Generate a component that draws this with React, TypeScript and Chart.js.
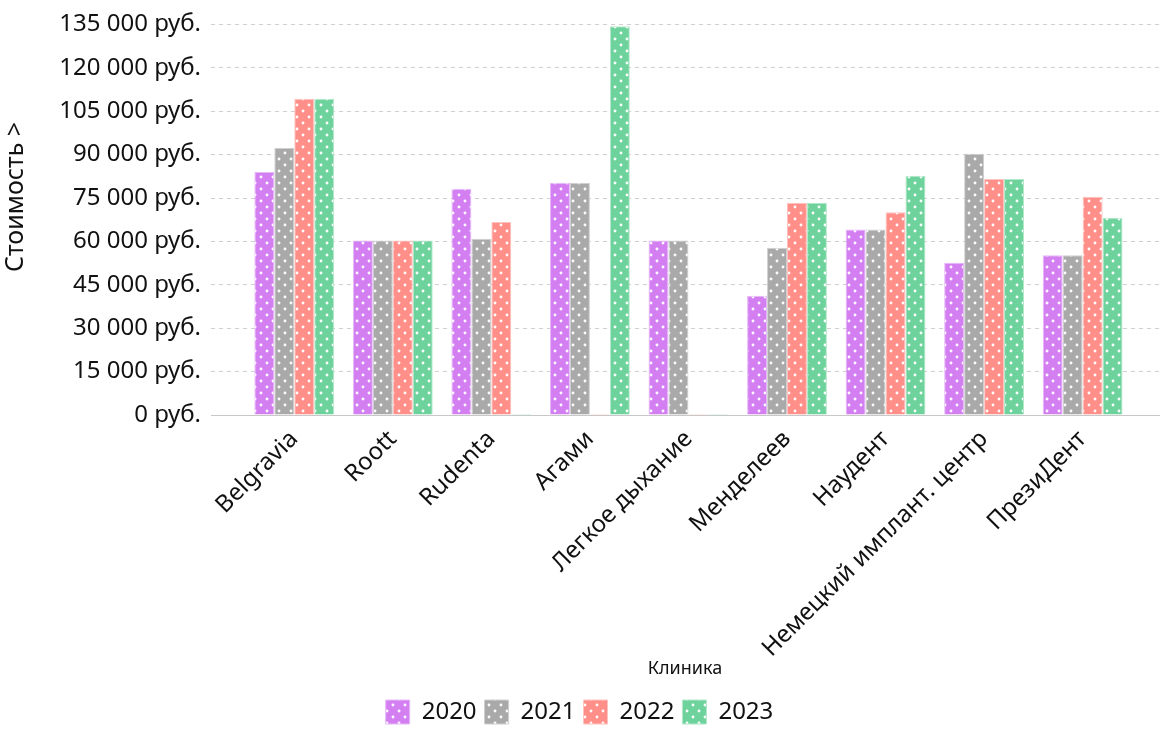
import React, { useEffect, useRef } from "react";
import { Chart, registerables } from "chart.js";

Chart.register(...registerables);

const categories = [
  "Belgravia",
  "Roott",
  "Rudenta",
  "Агами",
  "Легкое дыхание",
  "Менделеев",
  "Наудент",
  "Немецкий имплант. центр",
  "ПрезиДент",
];
const years = ["2020", "2021", "2022", "2023"];
const values2020 = [84000, 60300, 78200, 80300, 60300, 41200, 64100, 52600, 55200];
const values2021 = [92300, 60300, 60900, 80300, 60300, 57800, 64100, 90300, 55200];
const values2022 = [109300, 60300, 66700, 0, 0, 73400, 70100, 81600, 75400];
const values2023 = [109300, 60300, 0, 134400, 0, 73400, 82700, 81600, 68200];
const yTicksMax = 135000;
const yTickStep = 15000;

const colors = ["#d37ff2", "#a9a9a9", "#ff8f88", "#6dd29b"];
const borders = ["#e6b8f8", "#cfcfcf", "#ffc2be", "#b1e8c9"];

const FONT = "'Noto Sans', 'DejaVu Sans', sans-serif";

function makePattern(color: string): CanvasPattern | string {
  const c = document.createElement("canvas");
  c.width = 12;
  c.height = 12;
  const ctx = c.getContext("2d");
  if (!ctx) return color;
  ctx.fillStyle = color;
  ctx.fillRect(0, 0, 12, 12);
  ctx.fillStyle = "rgba(255,255,255,0.95)";
  ctx.beginPath();
  ctx.arc(3, 3, 1.45, 0, Math.PI * 2);
  ctx.fill();
  ctx.beginPath();
  ctx.arc(9, 9, 1.45, 0, Math.PI * 2);
  ctx.fill();
  return ctx.createPattern(c, "repeat") || color;
}

function fmt(v: number): string {
  return String(v).replace(/\B(?=(\d{3})+(?!\d))/g, " ") + " руб.";
}

// category axis spread: centres from x≈294 to x≈1084 inside a plot area of 211..1159
const X_START = -0.845;
const X_RANGE = 9.62;

export default function App() {
  const ref = useRef<HTMLCanvasElement | null>(null);

  useEffect(() => {
    document.body.style.margin = "0";
    const canvas = ref.current;
    if (!canvas) return;
    const series = [values2020, values2021, values2022, values2023];
    const chart = new Chart(canvas, {
      type: "bar",
      data: {
        labels: categories,
        datasets: years.map((y, i) => ({
          label: y,
          data: series[i],
          backgroundColor: makePattern(colors[i]) as any,
          borderColor: borders[i],
          borderWidth: 1,
          minBarLength: 1,
          categoryPercentage: 0.81,
          barPercentage: 1.0,
        })),
      },
      options: {
        responsive: false,
        animation: false,
        layout: { padding: { top: 14, right: 15, left: 0, bottom: 0 } },
        plugins: {
          tooltip: { enabled: false },
          legend: {
            position: "bottom",
            labels: {
              boxWidth: 24,
              boxHeight: 24,
              padding: 8,
              color: "#111",
              font: { family: FONT, size: 24 },
            },
          },
        },
        scales: {
          x: {
            grid: { display: false },
            border: { display: true, color: "#c8c8c8", width: 1 },
            ticks: {
              autoSkip: false,
              maxRotation: 45,
              minRotation: 45,
              color: "#111",
              font: { family: FONT, size: 24 },
              padding: 2,
            },
            title: {
              display: true,
              text: "Клиника",
              color: "#111",
              font: { family: FONT, size: 18 },
              padding: { top: 0, bottom: 12 },
            },
            afterBuildTicks: (scale: any) => {
              scale._startValue = X_START;
              scale._valueRange = X_RANGE;
            },
            afterFit: (scale: any) => {
              scale.height = 277;
            },
          },
          y: {
            min: 0,
            max: yTicksMax,
            border: { display: false, dash: [4, 4] },
            grid: {
              color: "#cfcfcf",
              lineWidth: 1,
              drawTicks: false,
            },
            ticks: {
              stepSize: yTickStep,
              padding: 10,
              color: "#111",
              font: { family: FONT, size: 24 },
              callback: (v: any) => fmt(Number(v)),
            },
            title: {
              display: true,
              text: "       Стоимость >",
              color: "#111",
              font: { family: FONT, size: 25 },
              padding: { top: 1, bottom: 0 },
            },
            afterFit: (scale: any) => {
              scale.width = 211;
            },
          },
        },
      },
    });
    return () => chart.destroy();
  }, []);

  return (
    <div style={{ width: 1174, height: 734 }}>
      <canvas ref={ref} width={1174} height={734} />
    </div>
  );
}
